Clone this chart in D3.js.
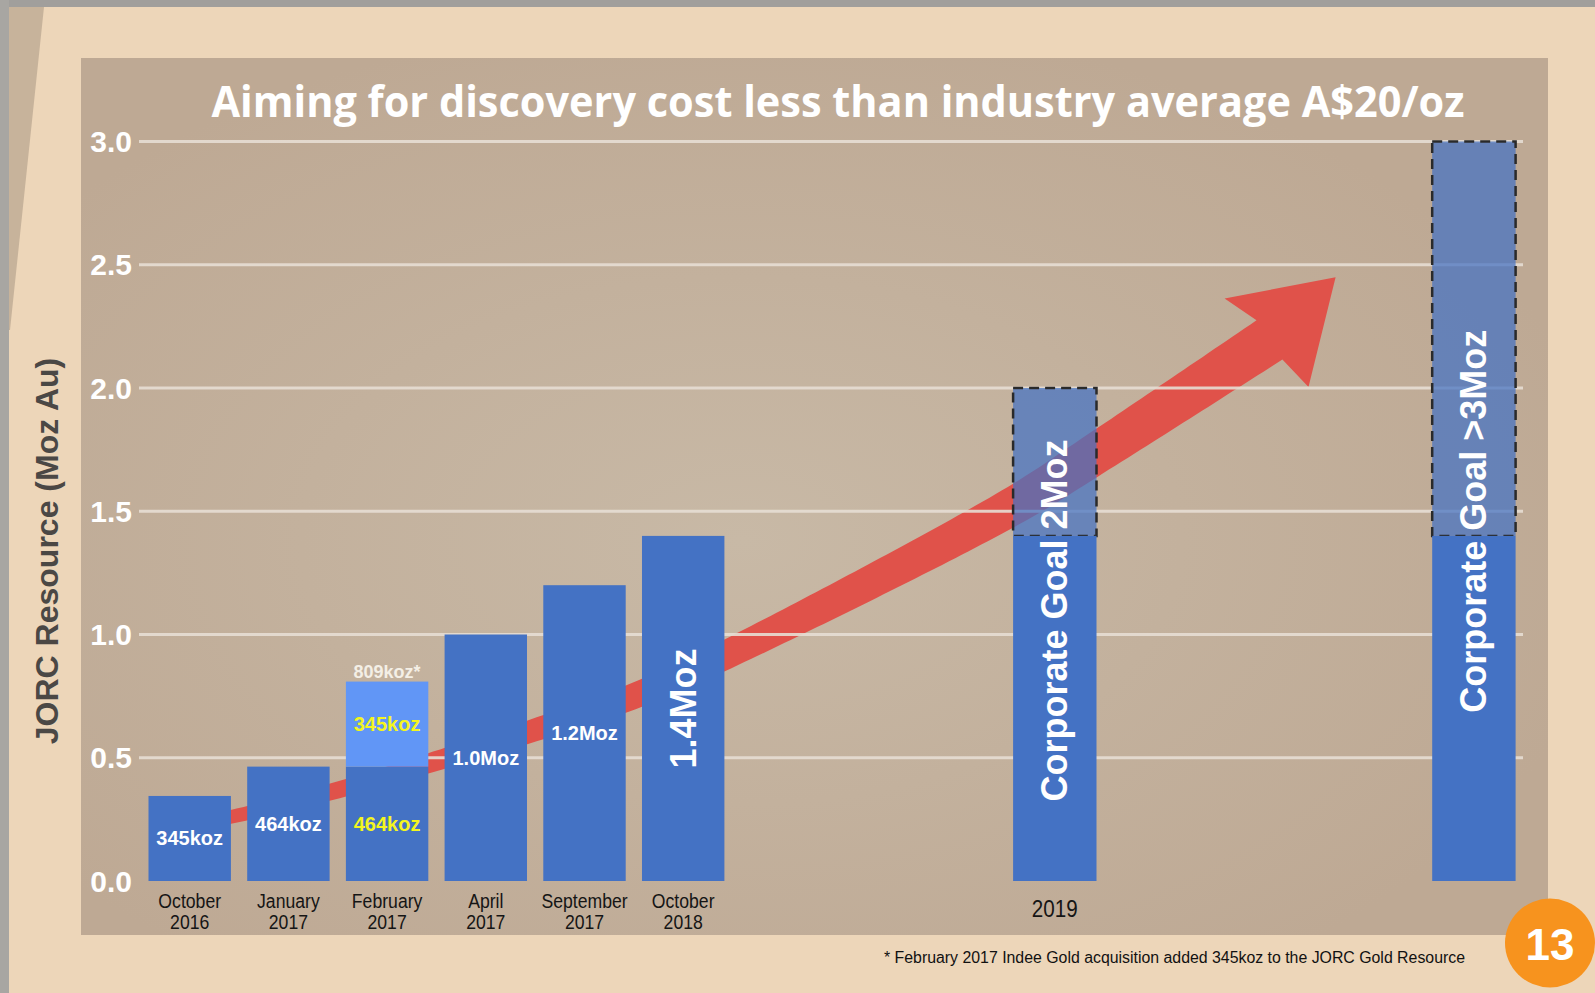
<!DOCTYPE html>
<html>
<head>
<meta charset="utf-8">
<script src="https://cdn.jsdelivr.net/npm/d3@7"></script>
<style>
  html, body { margin: 0; padding: 0; background: #edd6b9; overflow: hidden; }
  svg { display: block; }
</style>
</head>
<body>
<svg id="chart"></svg>
<script>
// resource history (Moz Au)
const periods = ["October|2016", "January|2017", "February|2017", "April|2017", "September|2017", "October|2018"];
const baseResource = [0.345, 0.464, 0.464, 1.0, 1.2, 1.4];
const acquired = [0, 0, 0.345, 0, 0, 0];
const baseLabels = ["345koz", "464koz", "464koz", "1.0Moz", "1.2Moz", "1.4Moz"];
const acquiredLabels = ["", "", "345koz", "", "", ""];
const totalLabels = ["", "", "809koz*", "", "", ""];

// corporate goals
const goalPeriods = ["2019", " "];
const goalCurrent = [1.4, 1.4];
const goalTarget = [2.0, 3.0];
const goalLabels = ["Corporate Goal 2Moz", "Corporate Goal >3Moz"];

const yTicks = [0, 0.5, 1.0, 1.5, 2.0, 2.5, 3.0];
const gridTicks = [0.5, 1.0, 1.5, 2.0, 2.5, 3.0];

// trend arrow centre line: category slot / Moz
const arrowSlots = [0.2, 0.51, 1.5, 2.5, 3.5, 4.5, 5.41, 8.34, 9.19, 10.94];
const arrowValues = [0.242, 0.268, 0.369, 0.487, 0.613, 0.75, 0.913, 1.521, 1.736, 2.195];
const arrowTip = [11.61, 2.449];

const title = "Aiming for discovery cost less than industry average A$20/oz";
const yTitle = "JORC Resource (Moz Au)";
const footnote = "* February 2017 Indee Gold acquisition added 345koz to the JORC Gold Resource";
const pageNo = "13";

const W = 1595, H = 993;
const blue = "#4472c4";
const sans = "'Liberation Sans', Arial, sans-serif";

const svg = d3.select("#chart").attr("width", W).attr("height", H);

// slide background
svg.append("rect").attr("width", W).attr("height", H).attr("fill", "#edd6b9");
svg.append("rect").attr("width", W).attr("height", 7).attr("fill", "#a19f9c");
svg.append("rect").attr("width", 9).attr("height", H).attr("fill", "#a8a6a2");
svg.append("path").attr("d", "M9,7 L44,7 L10,330 L9,330 Z").attr("fill", "#c7b39b");

const defs = svg.append("defs");
const grad = defs.append("radialGradient").attr("id", "panelGrad")
  .attr("cx", "45%").attr("cy", "55%").attr("r", "60%");
grad.append("stop").attr("offset", "0%").attr("stop-color", "#c8b9a6");
grad.append("stop").attr("offset", "100%").attr("stop-color", "#bea994");

svg.append("rect")
  .attr("x", 81).attr("y", 58).attr("width", 1467).attr("height", 877)
  .attr("fill", "url(#panelGrad)");

// scales
const y = d3.scaleLinear().domain([0, 3]).range([881, 141.5]);
const xHist = d3.scaleBand().domain(periods).range([148.5, 724.4]).paddingInner(0.165).paddingOuter(0);
const xGoal = d3.scaleBand().domain(goalPeriods).range([1013.1, 1515.6]).paddingInner(0.801).paddingOuter(0);
const slot = d3.scaleLinear().domain([0, 1])
  .range([xHist(periods[0]) + xHist.bandwidth() / 2, xHist(periods[1]) + xHist.bandwidth() / 2]);

// title
svg.append("text")
  .attr("x", 838).attr("y", 117)
  .attr("text-anchor", "middle")
  .attr("textLength", 1253).attr("lengthAdjust", "spacingAndGlyphs")
  .style("font-family", "'Open Sans', sans-serif").style("font-weight", 700)
  .style("font-size", "43px").attr("fill", "#ffffff")
  .text(title);

// trend arrow (drawn behind bars)
const arrowPts = arrowSlots.map((s, i) => [slot(s), y(arrowValues[i])]);
const guide = svg.append("path")
  .attr("d", d3.line().curve(d3.curveCatmullRom.alpha(0.5))(arrowPts))
  .attr("fill", "none");
const gNode = guide.node();
const L = gNode.getTotalLength();
const leftSide = [], rightSide = [];
const N = 160;
for (let i = 0; i <= N; i++) {
  const t = (i / N) * L;
  const p = gNode.getPointAtLength(t);
  const a = gNode.getPointAtLength(Math.max(0, t - 1));
  const b = gNode.getPointAtLength(Math.min(L, t + 1));
  let tx = b.x - a.x, ty = b.y - a.y;
  const len = Math.hypot(tx, ty) || 1;
  tx /= len; ty /= len;
  const w = 13 + (47 - 13) * (t / L);
  leftSide.push([p.x + ty * w / 2, p.y - tx * w / 2]);
  rightSide.push([p.x - ty * w / 2, p.y + tx * w / 2]);
}
guide.remove();
const neck = arrowPts[arrowPts.length - 1];
const tip = [slot(arrowTip[0]), y(arrowTip[1])];
let hx = tip[0] - neck[0], hy = tip[1] - neck[1];
const hl = Math.hypot(hx, hy);
hx /= hl; hy /= hl;
const wingL = [neck[0] + hy * 61 - hx * 4, neck[1] - hx * 61 - hy * 4];
const wingR = [neck[0] - hy * 61 - hx * 4, neck[1] + hx * 61 - hy * 4];
const arrowPoly = leftSide.concat([wingL, tip, wingR]).concat(rightSide.slice().reverse());
svg.append("path")
  .attr("d", "M" + arrowPoly.map(p => p[0].toFixed(1) + "," + p[1].toFixed(1)).join("L") + "Z")
  .attr("fill", "#e0524a");

// gridlines
svg.append("g").selectAll("line").data(gridTicks).join("line")
  .attr("x1", 139).attr("x2", 1523)
  .attr("y1", d => y(d)).attr("y2", d => y(d))
  .attr("stroke", "#e7ded4").attr("stroke-width", 3).attr("opacity", 0.9);

// y axis tick labels
svg.append("g").selectAll("text").data(yTicks).join("text")
  .attr("x", 132).attr("y", d => y(d))
  .attr("text-anchor", "end").attr("dominant-baseline", "central")
  .style("font-family", sans).style("font-weight", 700).style("font-size", "30px")
  .attr("fill", "#ffffff")
  .text(d => d.toFixed(1));

// y axis title
svg.append("text")
  .attr("transform", "translate(47," + 551 + ") rotate(-90)")
  .attr("text-anchor", "middle").attr("dominant-baseline", "central")
  .style("font-family", sans).style("font-weight", 700).style("font-size", "32px")
  .attr("fill", "#4b4845")
  .text(yTitle);

// goal bars: translucent target portion with dashed outline, solid current portion
const goals = goalPeriods.map((p, i) => ({ p, i, cur: goalCurrent[i], tgt: goalTarget[i], label: goalLabels[i] }));
const goalTextShift = [-14, 10];
const gGoal = svg.append("g");
gGoal.selectAll("rect.target").data(goals).join("rect").attr("class", "target")
  .attr("x", d => xGoal(d.p)).attr("width", xGoal.bandwidth())
  .attr("y", d => y(d.tgt)).attr("height", d => y(d.cur) - y(d.tgt))
  .attr("fill", blue).attr("fill-opacity", 0.72)
  .attr("stroke", "#2a2a2a").attr("stroke-width", 2.5).attr("stroke-dasharray", "10,6");
gGoal.selectAll("rect.current").data(goals).join("rect").attr("class", "current")
  .attr("x", d => xGoal(d.p)).attr("width", xGoal.bandwidth())
  .attr("y", d => y(d.cur)).attr("height", d => y(0) - y(d.cur))
  .attr("fill", blue);
gGoal.selectAll("text.goal").data(goals).join("text").attr("class", "goal")
  .attr("transform", d => "translate(" + (xGoal(d.p) + xGoal.bandwidth() / 2) + "," + (y(d.tgt / 2) + goalTextShift[d.i]) + ") rotate(-90)")
  .attr("text-anchor", "middle").attr("dominant-baseline", "central")
  .style("font-family", sans).style("font-weight", 700).style("font-size", "36px")
  .attr("fill", "#ffffff")
  .text(d => d.label);
gGoal.selectAll("text.period").data(goals).join("text").attr("class", "period")
  .attr("transform", d => "translate(" + (xGoal(d.p) + xGoal.bandwidth() / 2) + ",909) scale(0.86,1)")
  .attr("text-anchor", "middle").attr("dominant-baseline", "central")
  .style("font-family", sans).style("font-size", "24px").attr("fill", "#151515")
  .text(d => d.p.trim());

// historical bars
const hist = periods.map((p, i) => ({
  p, i, base: baseResource[i], add: acquired[i],
  baseLabel: baseLabels[i], addLabel: acquiredLabels[i], totalLabel: totalLabels[i]
}));
const gHist = svg.append("g");
gHist.selectAll("rect.base").data(hist).join("rect").attr("class", "base")
  .attr("x", d => xHist(d.p)).attr("width", xHist.bandwidth())
  .attr("y", d => y(d.base)).attr("height", d => y(0) - y(d.base))
  .attr("fill", blue);
gHist.selectAll("rect.add").data(hist.filter(d => d.add > 0)).join("rect").attr("class", "add")
  .attr("x", d => xHist(d.p)).attr("width", xHist.bandwidth())
  .attr("y", d => y(d.base + d.add)).attr("height", d => y(d.base) - y(d.base + d.add))
  .attr("fill", "#6196f6");

const last = periods.length - 1;
gHist.selectAll("text.base").data(hist).join("text").attr("class", "base")
  .attr("transform", d => "translate(" + (xHist(d.p) + xHist.bandwidth() / 2) + "," + y(d.base / 2) + ")" + (d.i === last ? " rotate(-90)" : ""))
  .attr("text-anchor", "middle").attr("dominant-baseline", "central")
  .style("font-family", sans).style("font-weight", 700)
  .style("font-size", d => d.i === last ? "36px" : "20px")
  .attr("fill", d => d.add > 0 ? "#f3f520" : "#ffffff")
  .text(d => d.baseLabel);
gHist.selectAll("text.add").data(hist.filter(d => d.add > 0)).join("text").attr("class", "add")
  .attr("x", d => xHist(d.p) + xHist.bandwidth() / 2)
  .attr("y", d => y(d.base + d.add / 2))
  .attr("text-anchor", "middle").attr("dominant-baseline", "central")
  .style("font-family", sans).style("font-weight", 700).style("font-size", "20px")
  .attr("fill", "#f3f520")
  .text(d => d.addLabel);
gHist.selectAll("text.total").data(hist.filter(d => d.totalLabel)).join("text").attr("class", "total")
  .attr("x", d => xHist(d.p) + xHist.bandwidth() / 2)
  .attr("y", d => y(d.base + d.add) - 10)
  .attr("text-anchor", "middle").attr("dominant-baseline", "central")
  .style("font-family", sans).style("font-weight", 700).style("font-size", "18px")
  .attr("fill", "#f4efe6")
  .text(d => d.totalLabel);

// category labels (two lines)
const cat = svg.append("g").selectAll("g").data(periods).join("g")
  .attr("transform", d => "translate(" + (xHist(d) + xHist.bandwidth() / 2) + ",0)");
cat.each(function (d) {
  const lines = d.split("|");
  lines.forEach((ln, k) => {
    d3.select(this).append("text")
      .attr("transform", "translate(0," + (900 + k * 21) + ") scale(0.84,1)")
      .attr("text-anchor", "middle").attr("dominant-baseline", "central")
      .style("font-family", sans).style("font-size", "21px").attr("fill", "#151515")
      .text(ln);
  });
});

// footnote
svg.append("text")
  .attr("x", 1465).attr("y", 963)
  .attr("text-anchor", "end")
  .attr("textLength", 581).attr("lengthAdjust", "spacingAndGlyphs")
  .style("font-family", sans).style("font-size", "16px").attr("fill", "#111111")
  .text(footnote);

// page badge
svg.append("ellipse").attr("cx", 1550).attr("cy", 943).attr("rx", 45).attr("ry", 44.5)
  .attr("fill", "#f7931e");
svg.append("text")
  .attr("x", 1550).attr("y", 944)
  .attr("text-anchor", "middle").attr("dominant-baseline", "central")
  .style("font-family", sans).style("font-weight", 700).style("font-size", "44px")
  .attr("fill", "#ffffff")
  .text(pageNo);
</script>
</body>
</html>
